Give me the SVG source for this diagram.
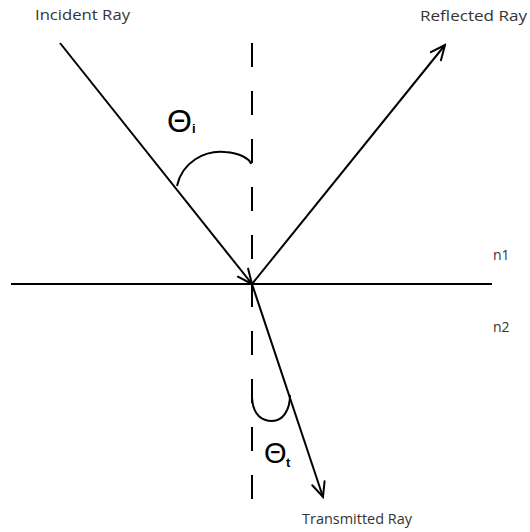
<svg xmlns="http://www.w3.org/2000/svg" width="530" height="532" viewBox="0 0 530 532">
  <style>
    .ray { stroke: #000; stroke-width: 2; fill: none; }
    .axis { stroke: #000; stroke-width: 2; fill: none; }
    .dash { stroke: #000; stroke-width: 2; stroke-dasharray: 24 24; fill: none; }
    .arc { stroke: #000; stroke-width: 2; fill: none; }
    .lbl { font-family: "Open Sans", "Noto Sans", "DejaVu Sans", sans-serif; font-size: 14px; fill: #333; }
    .theta { font-family: "Liberation Sans", Arial, sans-serif; fill: #000; }
    .sub { font-family: "Liberation Sans", Arial, sans-serif; font-weight: bold; fill: #000; }
  </style>
  <defs>
    <marker id="arr" viewBox="-17 -9 19 18" markerWidth="19" markerHeight="18" refX="0" refY="0" orient="auto" markerUnits="userSpaceOnUse">
      <path d="M-14.5,-6.5 L0,0 L-14.5,6.5" fill="none" stroke="#000" stroke-width="2" stroke-linecap="round" stroke-linejoin="miter"/>
    </marker>
  </defs>
  <rect width="530" height="532" fill="#fff"/>

  <g id="connectors">
    <line class="dash" x1="252" y1="43" x2="252" y2="499"/>
    <line class="axis" x1="11" y1="284" x2="492" y2="284"/>
    <line id="incident" class="ray" x1="60" y1="43" x2="252" y2="284" marker-end="url(#arr)"/>
    <line id="reflected" class="ray" x1="252" y1="284" x2="445" y2="45" marker-end="url(#arr)"/>
    <line id="transmitted" class="ray" x1="252" y1="284" x2="323" y2="497" marker-end="url(#arr)"/>
  </g>

  <g id="angle-i">
    <path class="arc" d="M177,186 C182,162 205,150 225,152 C240,153 250,159 251,164"/>
    <text class="theta" x="167" y="132" font-size="32">Θ</text>
    <text class="sub" x="192" y="133" font-size="13">i</text>
  </g>

  <g id="angle-t">
    <path class="arc" d="M252,379 L252,398 C253,416 263,421 272,421 C283,421 290,410 290,395"/>
    <text class="theta" x="264" y="463" font-size="29">Θ</text>
    <text class="sub" x="286" y="467" font-size="13">t</text>
  </g>

  <g id="label-incident"><text class="lbl" x="35" y="20" textLength="95" lengthAdjust="spacingAndGlyphs">Incident Ray</text></g>
  <g id="label-reflected"><text class="lbl" x="420" y="21" textLength="107" lengthAdjust="spacingAndGlyphs">Reflected Ray</text></g>
  <g id="label-transmitted"><text class="lbl" x="302" y="524" textLength="110" lengthAdjust="spacingAndGlyphs">Transmitted Ray</text></g>
  <g id="label-n1"><text class="lbl" x="493" y="260" font-size="13">n1</text></g>
  <g id="label-n2"><text class="lbl" x="493" y="332" font-size="13">n2</text></g>
</svg>
